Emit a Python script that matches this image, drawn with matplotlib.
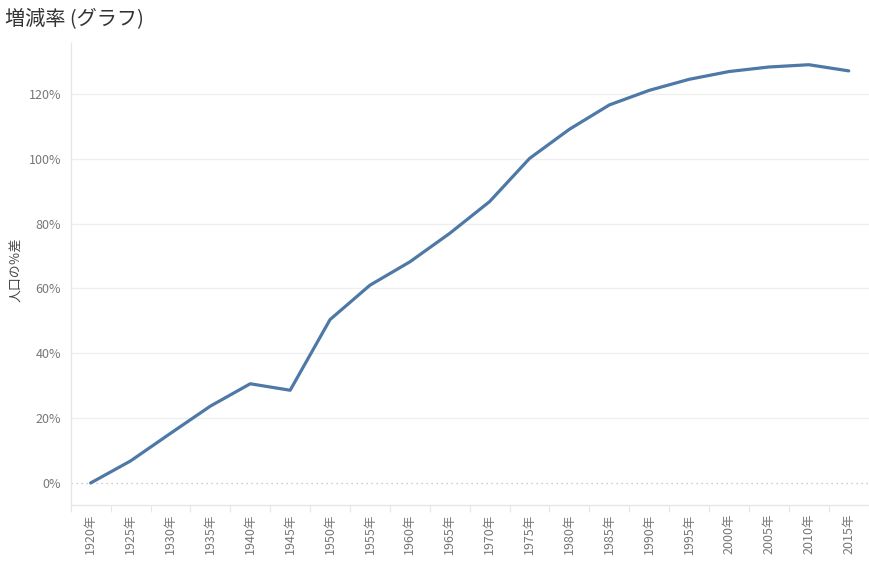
import matplotlib
matplotlib.use("Agg")
import matplotlib.pyplot as plt
import numpy as np

plt.rcParams['font.family'] = ['Noto Sans CJK JP', 'DejaVu Sans']

years = [1920, 1925, 1930, 1935, 1940, 1945, 1950, 1955, 1960, 1965,
         1970, 1975, 1980, 1985, 1990, 1995, 2000, 2005, 2010, 2015]
year_labels = [f"{y}年" for y in years]
pct_change = [0.0, 6.8, 15.3, 23.7, 30.6, 28.6, 50.4, 61.0, 68.2, 77.0,
              86.8, 100.1, 109.1, 116.6, 121.1, 124.5, 126.9, 128.3, 129.0, 127.1]
y_ticks = [0, 20, 40, 60, 80, 100, 120]

fig = plt.figure(figsize=(8.7, 5.65), dpi=100)
ax = fig.add_axes([70.7/870, 1-505/565, 798/870, (505-43)/565])

x = np.arange(len(years))
ax.plot(x, pct_change, color='#4e79a7', linewidth=2.3, solid_joinstyle='round',
        solid_capstyle='round', zorder=3)

ax.set_xlim(-0.5, len(years) - 0.5)
ax.set_ylim(-6.79, 135.7)

ax.set_yticks(y_ticks)
ax.set_yticklabels([f"{v}%" for v in y_ticks])
for v in y_ticks:
    if v == 0:
        ax.axhline(v, color='#bdbdbd', linewidth=0.9, linestyle=(0, (1, 3)), zorder=1)
    else:
        ax.axhline(v, color='#efefef', linewidth=0.9, zorder=1)

ax.set_xticks(x)
ax.set_xticklabels(year_labels, rotation=90)
ax.set_xticks(np.arange(-0.5, len(years), 1), minor=True)
ax.tick_params(axis='x', which='major', length=0, pad=6, labelsize=9, colors='#777777')
ax.tick_params(axis='x', which='minor', length=5, width=0.8, color='#e6e6e6')
ax.tick_params(axis='y', which='major', length=0, pad=7, labelsize=9, colors='#777777')

for s in ['top', 'right']:
    ax.spines[s].set_visible(False)
for s in ['left', 'bottom']:
    ax.spines[s].set_color('#e6e6e6')
    ax.spines[s].set_linewidth(0.9)

ax.set_ylabel('人口の％差', fontsize=9.3, color='#444444')
ax.yaxis.set_label_coords((23 - 70.7) / 798, 0.51)

fig.text(5/870, 1-20/565, '増減率 (グラフ)', fontsize=14.5, color='#333333',
         ha='left', va='center')

fig.savefig('out.png', dpi=100, facecolor='white')
